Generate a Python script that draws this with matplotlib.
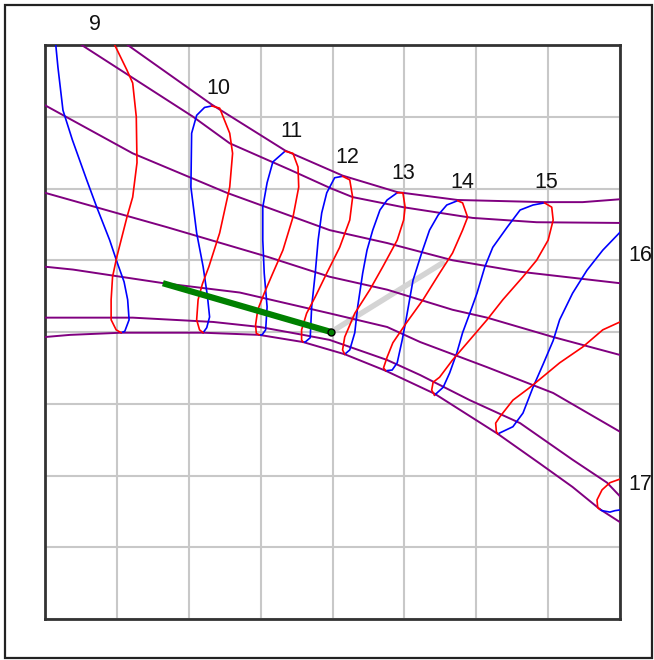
import matplotlib
matplotlib.use("Agg")
import matplotlib.pyplot as plt
from matplotlib.patches import Rectangle

# Hour curves: each hour is drawn as two halves of its yearly loop
# (blue: first half of the year, red: second half). Units are grid cells,
# y measured downward from the top edge.
hour_labels = ["9", "10", "11", "12", "13", "14", "15", "16", "17"]
label_x = [0.70, 2.41, 3.43, 4.21, 4.99, 5.80, 6.97, 8.28, 8.28]
label_y = [-0.28, 0.60, 1.20, 1.57, 1.79, 1.91, 1.92, 2.94, 6.12]

blue_9 = [(0.15, 0.00), (0.18, 0.31), (0.25, 0.91), (0.38, 1.32), (0.58, 1.88), (0.72, 2.26),
          (0.90, 2.72), (1.00, 3.02), (1.10, 3.30), (1.15, 3.55), (1.17, 3.83), (1.11, 3.99), (1.06, 4.01)]
red_9 = [(0.97, 0.00), (1.14, 0.35), (1.22, 0.53), (1.27, 1.00), (1.28, 1.64), (1.22, 2.12),
         (1.14, 2.40), (1.00, 2.95), (0.94, 3.23), (0.92, 3.55), (0.92, 3.83), (0.99, 3.97), (1.06, 4.01)]

blue_10 = [(2.32, 0.85), (2.22, 0.87), (2.11, 0.98), (2.04, 1.23), (2.03, 1.98), (2.11, 2.62),
           (2.20, 3.09), (2.26, 3.50), (2.29, 3.79), (2.25, 3.94), (2.20, 4.01)]
red_10 = [(2.32, 0.85), (2.43, 0.88), (2.57, 1.23), (2.61, 1.51), (2.57, 1.98), (2.43, 2.62),
          (2.28, 3.09), (2.19, 3.33), (2.13, 3.55), (2.11, 3.83), (2.15, 3.97), (2.20, 4.01)]

blue_11 = [(3.34, 1.48), (3.17, 1.63), (3.09, 1.92), (3.03, 2.26), (3.03, 2.72), (3.05, 3.18),
           (3.09, 3.65), (3.07, 3.97), (3.02, 4.04), (2.98, 4.04)]
red_11 = [(3.34, 1.48), (3.45, 1.51), (3.52, 1.70), (3.53, 1.98), (3.45, 2.40), (3.31, 2.86),
          (3.17, 3.18), (3.05, 3.46), (2.96, 3.69), (2.93, 3.90), (2.94, 4.02), (2.98, 4.04)]

blue_12 = [(4.14, 1.83), (4.03, 1.85), (3.92, 2.06), (3.85, 2.34), (3.80, 2.72), (3.76, 3.18),
           (3.71, 3.65), (3.69, 4.08), (3.62, 4.14), (3.59, 4.14)]
red_12 = [(4.14, 1.83), (4.24, 1.88), (4.28, 2.12), (4.24, 2.44), (4.10, 2.82), (3.92, 3.18),
          (3.76, 3.51), (3.64, 3.74), (3.57, 3.97), (3.57, 4.11), (3.59, 4.14)]

blue_13 = [(4.90, 2.06), (4.76, 2.16), (4.66, 2.30), (4.56, 2.58), (4.48, 2.86), (4.42, 3.18),
           (4.35, 3.65), (4.31, 4.01), (4.24, 4.25), (4.17, 4.31)]
red_13 = [(4.90, 2.06), (4.98, 2.06), (5.01, 2.26), (4.99, 2.44), (4.90, 2.72), (4.70, 3.09),
          (4.52, 3.41), (4.31, 3.74), (4.17, 4.07), (4.14, 4.25), (4.17, 4.31)]

blue_14 = [(5.74, 2.17), (5.59, 2.23), (5.47, 2.37), (5.35, 2.58), (5.24, 2.90), (5.12, 3.28),
           (5.03, 3.79), (4.97, 4.11), (4.90, 4.43), (4.83, 4.53), (4.74, 4.54)]
red_14 = [(5.74, 2.17), (5.81, 2.20), (5.88, 2.40), (5.81, 2.58), (5.67, 2.90), (5.49, 3.18),
          (5.26, 3.55), (5.03, 3.87), (4.84, 4.15), (4.76, 4.35), (4.71, 4.50), (4.74, 4.54)]

blue_15 = [(6.95, 2.20), (6.79, 2.23), (6.61, 2.30), (6.43, 2.54), (6.23, 2.82), (6.12, 3.09),
           (6.01, 3.46), (5.91, 3.74), (5.81, 4.01), (5.73, 4.29), (5.63, 4.57), (5.54, 4.77), (5.42, 4.88)]
red_15 = [(6.95, 2.20), (7.05, 2.26), (7.07, 2.44), (7.00, 2.72), (6.84, 3.00), (6.65, 3.23),
          (6.37, 3.55), (6.15, 3.83), (5.91, 4.11), (5.67, 4.39), (5.49, 4.63), (5.40, 4.70),
          (5.38, 4.81), (5.42, 4.88)]

blue_16 = [(8.00, 2.61), (7.76, 2.86), (7.54, 3.14), (7.34, 3.46), (7.16, 3.83), (7.07, 4.12),
           (6.93, 4.45), (6.79, 4.77), (6.65, 5.13), (6.51, 5.32), (6.30, 5.42)]
red_16 = [(8.00, 3.86), (7.76, 3.97), (7.48, 4.21), (7.16, 4.43), (6.75, 4.77), (6.51, 4.95),
          (6.33, 5.18), (6.27, 5.27), (6.28, 5.39), (6.30, 5.42)]

blue_17 = [(7.72, 6.47), (7.75, 6.49), (7.86, 6.51), (7.93, 6.49), (8.00, 6.48)]
red_17 = [(8.00, 6.05), (7.86, 6.10), (7.75, 6.20), (7.68, 6.34), (7.69, 6.45), (7.72, 6.47)]

blue_halves = [blue_9, blue_10, blue_11, blue_12, blue_13, blue_14, blue_15, blue_16, blue_17]
red_halves = [red_9, red_10, red_11, red_12, red_13, red_14, red_15, red_16, red_17]

# Date lines (declination curves), top to bottom
date_1 = [(1.15, 0.00), (2.32, 0.83), (3.34, 1.47), (4.14, 1.82), (4.90, 2.05), (5.74, 2.16),
          (6.95, 2.19), (7.48, 2.19), (8.00, 2.15)]
date_2 = [(0.51, 0.00), (2.06, 1.00), (2.57, 1.37), (3.41, 1.74), (3.96, 1.99), (4.28, 2.12),
          (4.98, 2.26), (5.95, 2.41), (6.84, 2.47), (8.00, 2.48)]
date_3 = [(0.00, 0.84), (1.22, 1.51), (2.53, 2.06), (3.96, 2.58), (4.76, 2.76), (5.67, 3.00),
          (6.61, 3.16), (8.00, 3.32)]
date_4 = [(0.00, 2.06), (1.70, 2.54), (3.09, 2.95), (3.96, 3.23), (4.76, 3.41), (5.67, 3.69),
          (6.15, 3.80), (7.07, 4.07), (8.00, 4.32)]
date_5 = [(0.00, 3.09), (0.39, 3.13), (1.65, 3.32), (2.71, 3.45), (3.96, 3.74), (4.76, 3.93),
          (5.22, 4.14), (6.15, 4.49), (7.07, 4.85), (8.00, 5.39)]
date_6 = [(0.00, 3.80), (1.22, 3.80), (2.34, 3.86), (2.99, 3.93), (3.59, 4.04), (3.96, 4.11),
          (4.76, 4.39), (5.22, 4.60), (5.91, 4.95), (6.61, 5.27), (7.34, 5.78), (7.82, 6.10), (8.00, 6.29)]
date_7 = [(0.00, 4.07), (0.35, 4.04), (1.06, 4.01), (2.20, 4.01), (2.98, 4.04), (3.59, 4.14),
          (4.17, 4.31), (4.74, 4.54), (5.42, 4.86), (6.30, 5.42), (6.88, 5.83), (7.34, 6.16),
          (7.72, 6.47), (8.00, 6.65)]
date_lines = [date_1, date_2, date_3, date_4, date_5, date_6, date_7]

# Gnomon (green) and its shadow (grey)
gnomon_x = [1.64, 3.98]
gnomon_y = [3.32, 4.00]
shadow_x = [3.98, 5.56]
shadow_y = [4.00, 3.02]

W, H = 654, 660
fig = plt.figure(figsize=(W / 100, H / 100), dpi=100)
fig.patch.set_facecolor("white")

# outer frame
fig.patches.append(Rectangle((5 / W, 2 / H), 647 / W, 653 / H, transform=fig.transFigure,
                             fill=False, edgecolor="#222222", linewidth=1.6))

ax = fig.add_axes([45 / W, (H - 619) / H, 575 / W, 574 / H])
ax.set_xlim(0, 8)
ax.set_ylim(8, 0)
ax.set_xticks(range(9))
ax.set_yticks(range(9))
ax.tick_params(length=0, labelbottom=False, labelleft=False)
ax.grid(True, color="#c8c8c8", linewidth=1.5)
ax.set_axisbelow(True)
for sp in ax.spines.values():
    sp.set_color("#333333")
    sp.set_linewidth(2.0)

ax.plot(shadow_x, shadow_y, color="#d4d4d4", linewidth=4.0, solid_capstyle="butt", zorder=2)

for line in date_lines:
    xs, ys = zip(*line)
    ax.plot(xs, ys, color="#800080", linewidth=1.4, zorder=3)

for half in blue_halves:
    xs, ys = zip(*half)
    ax.plot(xs, ys, color="#0000ff", linewidth=1.2, zorder=4)
for half in red_halves:
    xs, ys = zip(*half)
    ax.plot(xs, ys, color="#ff0000", linewidth=1.2, zorder=4)

ax.plot(gnomon_x, gnomon_y, color="#008000", linewidth=4.5, solid_capstyle="butt", zorder=5)
ax.plot(gnomon_x[-1:], gnomon_y[-1:], marker="o", markersize=5, markerfacecolor="#008000",
        markeredgecolor="black", markeredgewidth=1.0, zorder=6)

for lab, lx, ly in zip(hour_labels, label_x, label_y):
    ax.text(lx, ly, lab, ha="center", va="center", fontsize=15.5, family="Liberation Sans",
            color="#111111", clip_on=False)

fig.savefig("out.png", dpi=100)
